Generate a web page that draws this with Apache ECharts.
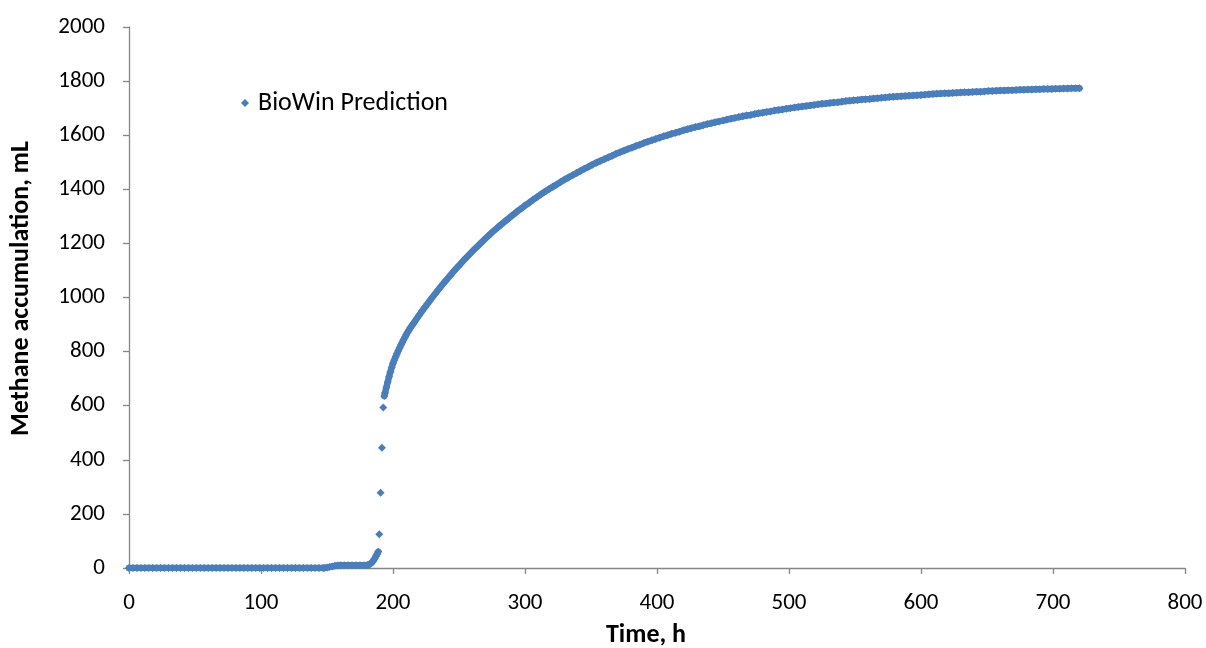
<!DOCTYPE html>
<html>
<head>
<meta charset="utf-8">
<script src="https://cdn.jsdelivr.net/npm/echarts@6/dist/echarts.min.js"></script>
<style>
  html, body { margin: 0; padding: 0; background: #fff; }
  #chart { width: 1206px; height: 648px; }
</style>
</head>
<body>
<div id="chart"></div>
<script>
// BioWin prediction: time (h) and methane (mL)
const lagTime = [0, 3, 6, 9, 12, 15, 18, 21, 24, 27, 30, 33, 36, 39, 42, 45, 48, 51, 54, 57,
    60, 63, 66, 69, 72, 75, 78, 81, 84, 87, 90, 93, 96, 99, 102, 105, 108, 111, 114, 117,
    120, 123, 126, 129, 132, 135, 138, 141, 144, 147];

const startTime = [148, 150, 152, 154, 156, 158, 160, 163, 166, 169, 172, 175, 178, 180, 181,
    182, 183, 184, 185, 186, 187, 188, 188.8];
const startValue = [0, 2, 4, 6, 8, 9, 10, 10, 10, 10, 10, 10, 10, 10, 11,
    13, 16, 20, 26, 34, 43, 52, 60];

// the few isolated points of the jump
const jumpTime = [189.6, 190.6, 191.6, 192.6];
const jumpValue = [125, 278, 445, 593];

const riseTime = [193.4, 194, 195, 196, 197, 198, 199, 200, 201, 202, 203, 204, 205, 206, 207, 208,
    209, 210, 211, 212, 213, 214, 215, 216, 218, 220, 222, 224, 226, 228, 230, 232, 234, 236,
    238, 240, 242, 244, 246, 248, 250, 252, 254, 256, 258, 260, 262, 264, 266, 268, 270, 272,
    274, 276, 278, 280, 282, 284, 286, 288, 290, 292, 294, 296, 298, 300];
const riseValue = [636, 648, 668, 688, 707, 725, 741, 757, 769, 781, 792, 803, 814, 824, 834, 844,
    853, 862, 871, 879, 887, 894, 901, 908, 922, 936, 950, 963, 976, 989, 1002, 1014, 1027, 1039,
    1051, 1062, 1074, 1085, 1097, 1108, 1118, 1129, 1140, 1150, 1160, 1170, 1180, 1189, 1199, 1208, 1218, 1227,
    1236, 1245, 1253, 1262, 1270, 1278, 1286, 1294, 1302, 1310, 1318, 1325, 1332, 1340];

const tailValue = [1350, 1361, 1371, 1381, 1391, 1400, 1409, 1418, 1427, 1436, 1444, 1452, 1460, 1468,
    1476, 1483, 1491, 1498, 1505, 1511, 1518, 1524, 1531, 1537, 1543, 1549, 1554, 1560, 1565,
    1571, 1576, 1581, 1586, 1591, 1596, 1600, 1605, 1609, 1613, 1618, 1622, 1626, 1630, 1633,
    1637, 1641, 1644, 1648, 1651, 1654, 1658, 1661, 1664, 1667, 1670, 1673, 1675, 1678, 1681,
    1683, 1686, 1688, 1691, 1693, 1695, 1698, 1700, 1702, 1704, 1706, 1708, 1710, 1712, 1714,
    1716, 1717, 1719, 1721, 1722, 1724, 1726, 1727, 1729, 1730, 1732, 1733, 1734, 1736, 1737,
    1738, 1739, 1741, 1742, 1743, 1744, 1745, 1746, 1747, 1748, 1749, 1750, 1751, 1752, 1753,
    1754, 1755, 1755, 1756, 1757, 1758, 1759, 1759, 1760, 1761, 1761, 1762, 1763, 1763, 1764,
    1765, 1765, 1766, 1766, 1767, 1768, 1768, 1769, 1769, 1770, 1770, 1771, 1771, 1771, 1772,
    1772, 1773, 1773, 1774, 1774, 1774];
// tail samples every 3 h from 303 h to 720 h
const tailTime = [];
for (let t = 303; t <= 720; t += 3) tailTime.push(t);

const early = [];
lagTime.forEach(t => early.push([t, 0]));
startTime.forEach((t, i) => early.push([t, startValue[i]]));
const late = [];
riseTime.forEach((t, i) => late.push([t, riseValue[i]]));
tailTime.forEach((t, i) => late.push([t, tailValue[i]]));
const jump = jumpTime.map((t, i) => [t, jumpValue[i]]);

const points = early.concat(jump, late);
// dense stretches only, so the markers read as one band like in Excel
const band = early.concat([['-', '-']], late);

const font = 'Carlito, Lato, "Liberation Sans", sans-serif';
const axisColor = '#868686';
const blue = '#4a7ebb';

const chart = echarts.init(document.getElementById('chart'));
chart.setOption({
    animation: false,
    grid: { left: 129, right: 21, top: 27, bottom: 80, outerBoundsMode: 'none', containLabel: false },
    legend: {
        left: 236, top: 85,
        itemWidth: 8, itemHeight: 8,
        textStyle: { fontFamily: font, fontSize: 26, color: '#000', padding: [0, 0, 0, 4] },
        data: ['BioWin Prediction']
    },
    xAxis: {
        type: 'value', min: 0, max: 800, interval: 100,
        name: 'Time, h', nameLocation: 'middle', nameGap: 54,
        nameTextStyle: { fontFamily: font, fontSize: 26, fontWeight: 'bold', color: '#000', padding: [0, 22, 0, 0] },
        axisLine: { lineStyle: { color: axisColor, width: 1.3 } },
        axisTick: { show: true, inside: false, length: 6, lineStyle: { color: axisColor, width: 1.3 } },
        axisLabel: { fontFamily: font, fontSize: 23, color: '#000', margin: 24 },
        splitLine: { show: false }
    },
    yAxis: {
        type: 'value', min: 0, max: 2000, interval: 200,
        name: 'Methane accumulation, mL', nameLocation: 'middle', nameGap: 95, nameRotate: 90,
        nameTextStyle: { fontFamily: font, fontSize: 26, fontWeight: 'bold', color: '#000', padding: [0, 0, 0, 18] },
        axisLine: { show: true, lineStyle: { color: axisColor, width: 1.3 } },
        axisTick: { show: true, inside: false, length: 6, lineStyle: { color: axisColor, width: 1.3 } },
        axisLabel: { fontFamily: font, fontSize: 23, color: '#000', margin: 24, formatter: v => String(v) },
        splitLine: { show: false }
    },
    series: [{
        name: 'band',
        type: 'line',
        showSymbol: false,
        connectNulls: false,
        silent: true,
        lineStyle: { color: blue, width: 6.5, cap: 'round', join: 'round' },
        data: band
    }, {
        name: 'BioWin Prediction',
        type: 'scatter',
        symbol: 'diamond',
        symbolSize: 8,
        itemStyle: { color: blue, opacity: 1 },
        data: points
    }]
});
</script>
</body>
</html>
